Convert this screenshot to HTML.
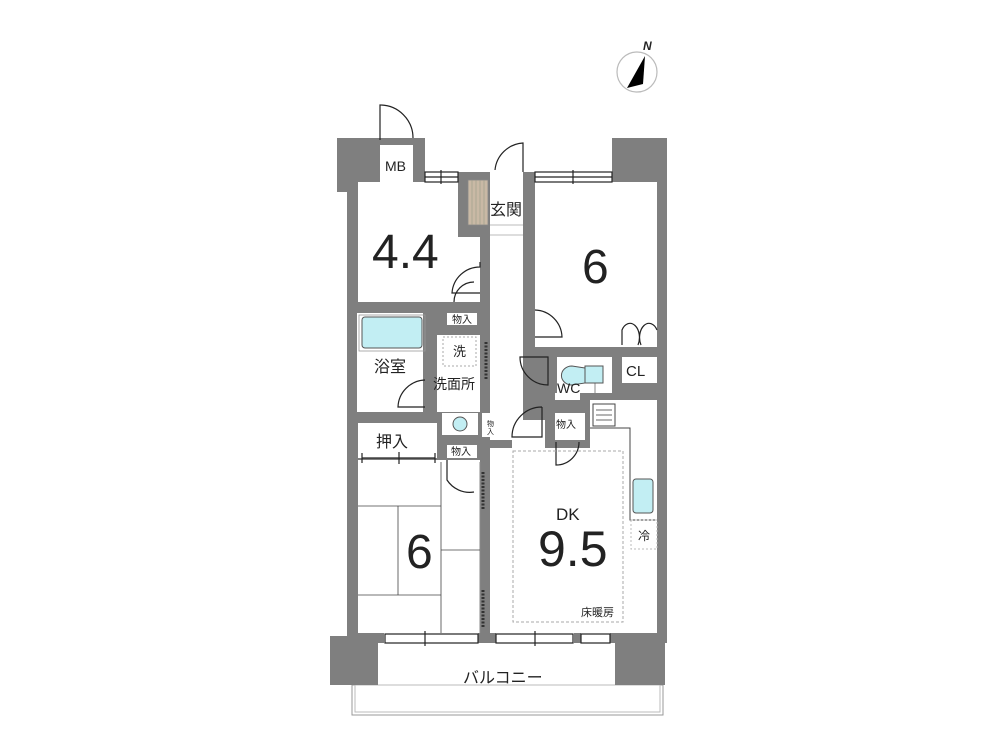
<!DOCTYPE html>
<html><head><meta charset="utf-8"><style>
html,body{margin:0;padding:0;background:#fff;width:1000px;height:750px;overflow:hidden}
text{font-family:"Liberation Sans","Noto Sans CJK JP",sans-serif;fill:#222}
</style></head><body>
<svg width="1000" height="750" viewBox="0 0 1000 750" xmlns="http://www.w3.org/2000/svg">
<!-- compass -->
<circle cx="637" cy="72" r="20" fill="#fff" stroke="#bbb" stroke-width="1.2"/>
<polygon points="645,56 627,88 643,84" fill="#000"/>
<text x="643" y="50" font-size="12" font-weight="bold" font-style="italic">N</text>

<!-- balcony -->
<rect x="352" y="685" width="311" height="30" fill="none" stroke="#999" stroke-width="1"/>
<rect x="355" y="685" width="305" height="27" fill="none" stroke="#bbb" stroke-width="1"/>

<!-- gray base -->
<g fill="#7f7f7f">
<rect x="347" y="172" width="320" height="471"/>
<rect x="337" y="138" width="88" height="54"/>
<rect x="612" y="138" width="55" height="54"/>
<rect x="330" y="636" width="48" height="49"/>
<rect x="615" y="636" width="50" height="49"/>
</g>
<!-- white rooms -->
<g fill="#fff">
<rect x="380" y="145" width="33" height="40"/>
<rect x="425" y="172" width="33" height="10"/>
<rect x="535" y="172" width="77" height="10"/>
<rect x="358" y="182" width="100" height="120"/>
<rect x="458" y="237" width="22" height="65"/>
<rect x="490" y="172" width="33" height="268"/>
<rect x="535" y="182" width="122" height="165"/>
<rect x="447" y="313" width="30" height="12"/>
<rect x="357" y="313" width="66" height="99"/>
<rect x="437" y="335" width="43" height="77"/>
<rect x="442" y="413" width="36" height="22"/>
<rect x="482" y="413" width="16" height="24"/>
<rect x="358" y="423" width="79" height="35"/>
<rect x="447" y="445" width="30" height="13"/>
<rect x="358" y="460" width="122" height="173"/>
<rect x="490" y="448" width="167" height="185"/>
<rect x="512" y="420" width="33" height="30"/>
<rect x="557" y="357" width="55" height="36"/>
<rect x="555" y="393" width="25" height="7"/>
<rect x="622" y="357" width="35" height="26"/>
<rect x="555" y="413" width="30" height="27"/>
<rect x="590" y="400" width="67" height="233"/>
<rect x="384" y="633" width="94" height="10"/>
<rect x="496" y="633" width="78" height="10"/>
<rect x="581" y="633" width="29" height="10"/>
</g>
<!-- windows -->
<g fill="none" stroke="#222" stroke-width="1.2">
<rect x="425" y="172" width="33" height="10"/><line x1="425" y1="177" x2="458" y2="177"/><line x1="441" y1="170" x2="441" y2="184"/>
<rect x="535" y="172" width="77" height="10"/><line x1="535" y1="177" x2="612" y2="177"/><line x1="573" y1="170" x2="573" y2="184"/>
<rect x="385" y="634" width="93" height="9"/><line x1="425" y1="631" x2="425" y2="646"/>
<rect x="496" y="634" width="77" height="9"/><line x1="535" y1="631" x2="535" y2="646"/>
<rect x="581" y="634" width="29" height="9"/>
<!-- doors -->
<path d="M380 140 L380 105 A33 33 0 0 1 413 138"/>
<path d="M523 172 L523 143 A30 30 0 0 0 495 170"/>
<path d="M480 262 L480 267 A28 28 0 0 0 452 293 L480 293"/>
<path d="M474 282 A20 20 0 0 0 454 302"/>
<path d="M535 310 A28 28 0 0 1 562 337 L535 337"/>
<path d="M622 345 L622 330 A8 12 0 0 1 638 345 M657 330 A8 12 0 0 0 641 345 L641 345"/>
<path d="M548 357 L520 357 A28 28 0 0 0 548 385 Z"/>
<path d="M425 380 A28 28 0 0 0 398 407 L425 407"/>
<path d="M542 407 L542 437 L512 437 A30 30 0 0 1 542 407"/>
<path d="M556 442 L556 465 A23 23 0 0 0 579 442"/>
<path d="M447 460 L447 480 A27 27 0 0 0 474 492"/>
<path d="M362 458 L435 458 M362 453 L362 463 M399 452 L399 464 M435 453 L435 463"/>
</g>
<!-- shoe box -->
<rect x="468" y="180" width="20" height="45" fill="#c9b9a5" stroke="#888" stroke-width="0.8"/>
<g stroke="#998" stroke-width="0.6"><line x1="472" y1="180" x2="472" y2="225"/><line x1="476" y1="180" x2="476" y2="225"/><line x1="480" y1="180" x2="480" y2="225"/><line x1="484" y1="180" x2="484" y2="225"/></g>
<line x1="490" y1="225" x2="523" y2="225" stroke="#bbb"/><line x1="490" y1="235" x2="523" y2="235" stroke="#bbb"/>
<!-- bath tub -->
<rect x="362" y="317" width="60" height="31" rx="3" fill="#c2eef3" stroke="#555" stroke-width="1"/>
<rect x="359" y="315" width="66" height="36" fill="none" stroke="#999" stroke-width="0.8"/>
<!-- wash -->
<rect x="443" y="337" width="33" height="29" fill="none" stroke="#aaa" stroke-dasharray="2,2"/>
<circle cx="460" cy="424" r="7" fill="#c2eef3" stroke="#555"/>
<!-- fusuma / partitions -->
<g stroke="#333" stroke-width="3" stroke-dasharray="2,1.5" fill="none">
<line x1="486" y1="342" x2="486" y2="380"/>
<line x1="483" y1="472" x2="483" y2="510"/>
<line x1="483" y1="590" x2="483" y2="628"/>
</g>
<line x1="480" y1="462" x2="480" y2="633" stroke="#888"/>
<!-- tatami -->
<g stroke="#444" stroke-width="0.8">
<line x1="358" y1="506" x2="441" y2="506"/><line x1="358" y1="595" x2="441" y2="595"/>
<line x1="398" y1="506" x2="398" y2="595"/><line x1="441" y1="462" x2="441" y2="633"/>
<line x1="441" y1="550" x2="480" y2="550"/>
</g>
<!-- toilet -->
<path d="M595 377 L595 393" stroke="#888"/>
<path d="M585 368 L572 366 A10 9 0 0 0 572 385 L585 383 Z" fill="#c2eef3" stroke="#555"/>
<rect x="585" y="366" width="18" height="17" fill="#c2eef3" stroke="#555"/>
<!-- kitchen -->
<rect x="593" y="404" width="22" height="22" fill="#fff" stroke="#444"/>
<g stroke="#444" stroke-width="0.8"><line x1="596" y1="410" x2="612" y2="410"/><line x1="596" y1="415" x2="612" y2="415"/><line x1="596" y1="420" x2="612" y2="420"/></g>
<path d="M590 428 L630 428 L630 520 L657 520" fill="none" stroke="#444" stroke-width="1"/>
<rect x="633" y="479" width="20" height="34" rx="3" fill="#c2eef3" stroke="#555"/>
<rect x="631" y="520" width="26" height="29" fill="none" stroke="#bbb" stroke-dasharray="2,2"/>
<rect x="513" y="451" width="110" height="171" fill="none" stroke="#aaa" stroke-dasharray="3,2"/>
<!-- labels -->
<text x="372" y="268" font-size="48">4.4</text>
<text x="582" y="283" font-size="48">6</text>
<text x="406" y="568" font-size="48">6</text>
<text x="538" y="566" font-size="50">9.5</text>
<text x="556" y="520" font-size="17">DK</text>
<text x="385" y="171" font-size="14">MB</text>
<text x="490" y="215" font-size="16">玄関</text>
<text x="452" y="323" font-size="10">物入</text>
<text x="453" y="356" font-size="13">洗</text>
<text x="374" y="372" font-size="16">浴室</text>
<text x="433" y="389" font-size="14">洗面所</text>
<text x="557" y="393" font-size="14">WC</text>
<text x="626" y="376" font-size="15">CL</text>
<text x="556" y="428" font-size="10">物入</text>
<text x="487" y="426" font-size="7">物</text>
<text x="487" y="434" font-size="7">入</text>
<text x="376" y="447" font-size="16">押入</text>
<text x="451" y="455" font-size="10">物入</text>
<text x="638" y="540" font-size="12">冷</text>
<text x="581" y="616" font-size="11">床暖房</text>
<text x="463" y="683" font-size="16">バルコニー</text>
</svg>
</body></html>
